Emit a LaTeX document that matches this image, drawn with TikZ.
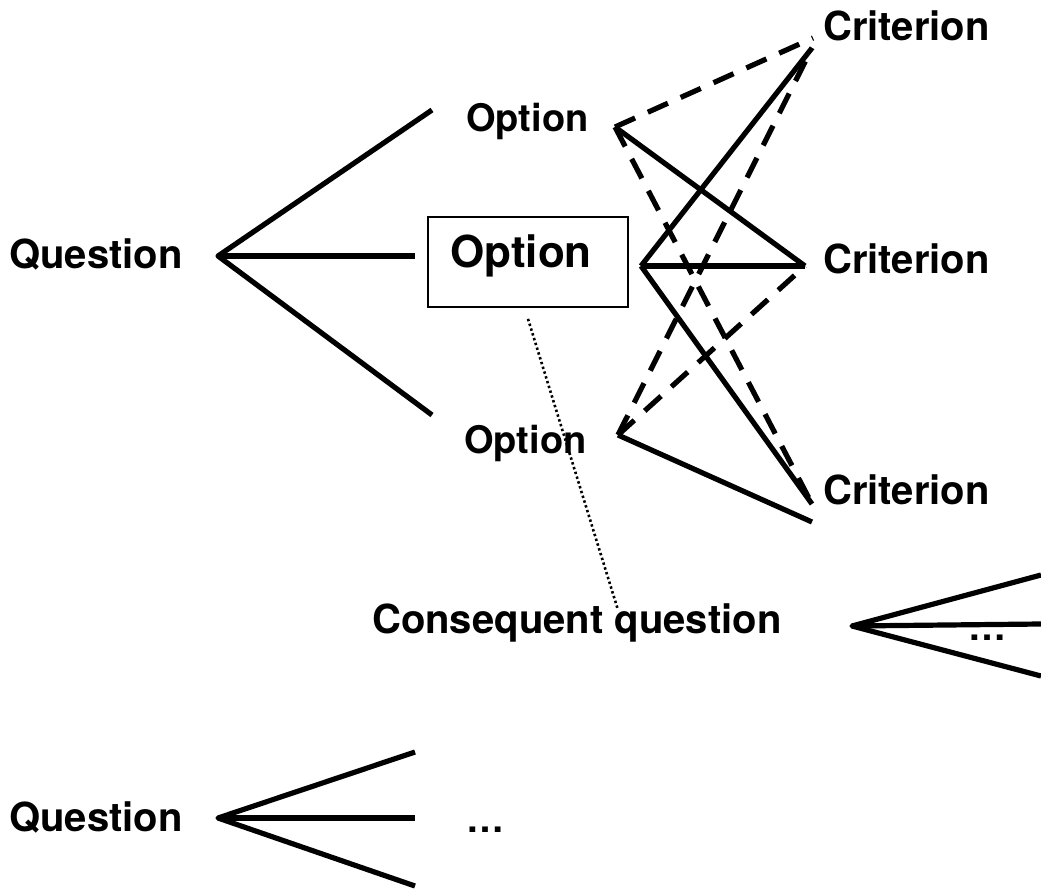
\documentclass[tikz,border=0pt]{standalone}
\usepackage{fontspec}
\setmainfont{TeX Gyre Heros}
\begin{document}
\begin{tikzpicture}[x=1pt,y=-1pt,
  lbl/.style={anchor=base west,inner sep=0pt,font=\fontsize{40}{42}\selectfont\bfseries},
  optlbl/.style={anchor=base west,inner sep=0pt,font=\fontsize{38}{40}\selectfont\bfseries},
  biglbl/.style={anchor=base west,inner sep=0pt,font=\fontsize{44}{46}\selectfont\bfseries},
  link/.style={line width=5.2pt,line cap=butt,line join=round},
  weak/.style={link,dash pattern=on 22pt off 14pt},
  chosen/.style={draw,line width=1.8pt,minimum width=200pt,minimum height=90pt,inner sep=0pt},
  hint/.style={line width=2.6pt,dash pattern=on 2.4pt off 2.6pt}]
\useasboundingbox (0,0) rectangle (1041,893);

% first question and its three options
\node[lbl] (q1) at (9,269) {Question};
\coordinate (q1r) at (218,256);
\coordinate (o1l) at (432,110);
\coordinate (o2l) at (415,256);
\coordinate (o3l) at (432,415);
\node[optlbl] (opt1) at (466,132) {Option};
\node[chosen] (box) at (528,262) {};
\node[biglbl] (opt2) at (450,268) {Option};
\node[optlbl] (opt3) at (464,453) {Option};

\draw[link] (o1l) -- (q1r) -- (o3l);
\draw[link] (q1r) -- (o2l);

% option end points and criterion end points
\coordinate (o1r) at (615,127);
\coordinate (o2r) at (641,266);
\coordinate (o3r) at (618,435);
\coordinate (c1a) at (813,38);
\coordinate (c1b) at (812,48);
\coordinate (c2) at (805,266);
\coordinate (c3a) at (812,504);
\coordinate (c3b) at (812,522);
\node[lbl] (cr1) at (823,41) {Criterion};
\node[lbl] (cr2) at (823,274) {Criterion};
\node[lbl] (cr3) at (823,504) {Criterion};

% evaluations of options against criteria
\draw[weak] (o1r) -- (c1a);
\draw[link] (o1r) -- (c2);
\draw[weak] (o1r) -- (c3a);
\draw[link] (o2r) -- (c1b);
\draw[link] (o2r) -- (c2);
\draw[link] (o2r) -- (c3a);
\draw[weak] (o3r) -- (c1b);
\draw[weak] (o3r) -- (c2);
\draw[link] (o3r) -- (c3b);

% consequent question following the chosen option
\coordinate (boxb) at ([yshift=-11pt]box.south);
\node[lbl] (cq) at (372,633) {Consequent question};
\coordinate (cqt) at (618,610);
\draw[hint] (boxb) -- (cqt);
\coordinate (cqr) at (852,626);
\coordinate (cqa) at (1041,575);
\coordinate (cqb) at (1041,624);
\coordinate (cqc) at (1041,676);
\draw[link] (cqa) -- (cqr) -- (cqc);
\draw[link] (cqr) -- (cqb);
\node[optlbl] (cqdots) at (968,640) {\ldots};

% another question
\node[lbl] (q2) at (9,831) {Question};
\coordinate (q2r) at (218,818);
\coordinate (q2a) at (415,752);
\coordinate (q2b) at (415,818);
\coordinate (q2c) at (415,886);
\draw[link] (q2a) -- (q2r) -- (q2c);
\draw[link] (q2r) -- (q2b);
\node[optlbl] (q2dots) at (466,832) {\ldots};
\end{tikzpicture}
\end{document}
